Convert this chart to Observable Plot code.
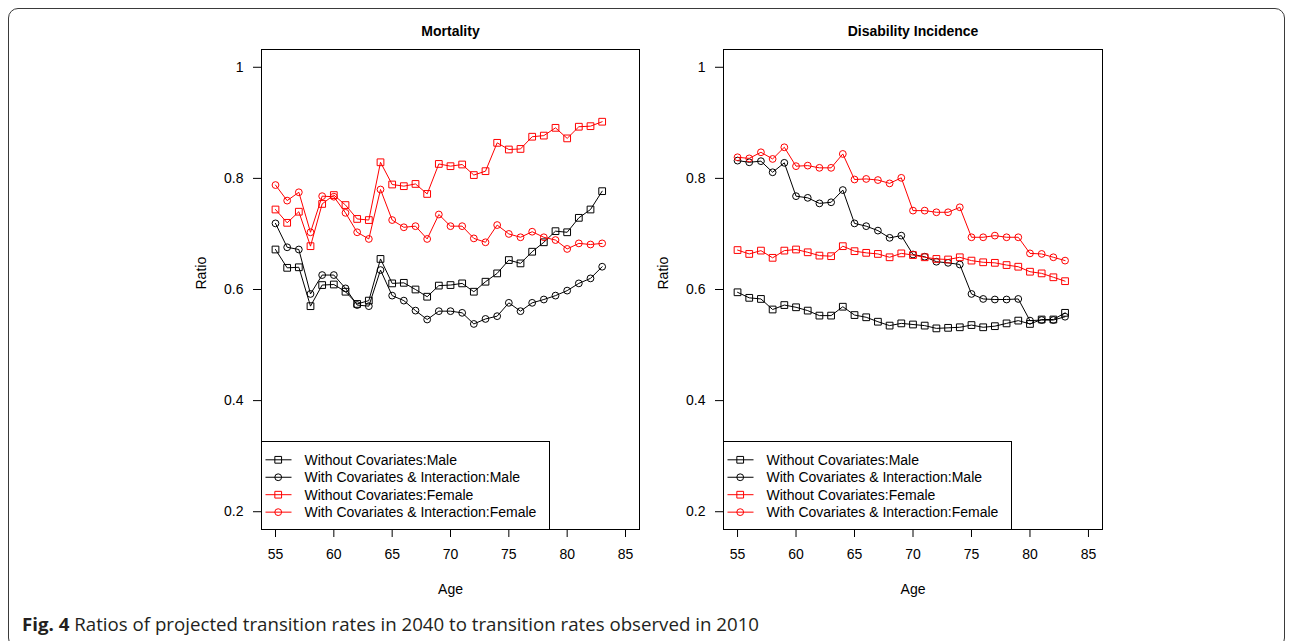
<!DOCTYPE html>
<html><head><meta charset="utf-8">
<script src="https://cdn.jsdelivr.net/npm/d3@7"></script>
<script src="https://cdn.jsdelivr.net/npm/@observablehq/plot@0.6"></script>
<style>
html,body{margin:0;padding:0;background:#fff;}
#root{position:relative;width:1292px;height:641px;overflow:hidden;font-family:"Liberation Sans",Arial,sans-serif;}
#border{position:absolute;left:8px;top:8px;width:1277px;height:640px;border:1.5px solid #3a3a3a;border-radius:10px;box-sizing:border-box;}
.panel{position:absolute;top:0;}
#caption{position:absolute;left:22px;top:615px;font-family:"Open Sans",sans-serif;font-size:18px;line-height:18px;color:#231f20;white-space:nowrap;transform-origin:left top;}
#caption b{font-weight:700;}
</style>
</head><body>
<div id="root">
  <div id="border"></div>
  <div id="p1" class="panel" style="left:0px"></div>
  <div id="p2" class="panel" style="left:646px"></div>
  <div id="caption"><b>Fig. 4</b> Ratios of projected transition rates in 2040 to transition rates observed in 2010</div>
</div>
<script>
// ---- data ----
const ages = [55,56,57,58,59,60,61,62,63,64,65,66,67,68,69,70,71,72,73,74,75,76,77,78,79,80,81,82,83];
const xTicks = [55,60,65,70,75,80,85];
const yTicks = [0.2,0.4,0.6,0.8,1];
const seriesLabels = ["Without Covariates:Male","With Covariates & Interaction:Male","Without Covariates:Female","With Covariates & Interaction:Female"];
const panelTitles = ["Mortality","Disability Incidence"];

const mortMaleNoCov   = [0.672,0.639,0.640,0.570,0.608,0.609,0.596,0.574,0.580,0.655,0.611,0.612,0.600,0.587,0.607,0.608,0.611,0.596,0.614,0.629,0.653,0.647,0.668,0.685,0.705,0.703,0.729,0.744,0.777];
const mortMaleCov     = [0.719,0.676,0.672,0.592,0.626,0.626,0.602,0.572,0.570,0.635,0.589,0.580,0.562,0.546,0.561,0.561,0.558,0.538,0.547,0.552,0.576,0.561,0.576,0.582,0.589,0.598,0.611,0.620,0.641];
const mortFemaleNoCov = [0.744,0.720,0.740,0.678,0.754,0.770,0.752,0.727,0.725,0.829,0.789,0.786,0.790,0.772,0.826,0.822,0.825,0.806,0.813,0.864,0.852,0.853,0.875,0.877,0.891,0.872,0.893,0.894,0.902];
const mortFemaleCov   = [0.788,0.760,0.775,0.703,0.768,0.767,0.738,0.703,0.691,0.780,0.725,0.712,0.714,0.691,0.735,0.714,0.714,0.692,0.685,0.716,0.700,0.694,0.704,0.694,0.689,0.673,0.683,0.681,0.683];

const disMaleNoCov    = [0.595,0.585,0.583,0.564,0.572,0.568,0.562,0.553,0.553,0.569,0.554,0.550,0.542,0.535,0.539,0.537,0.535,0.530,0.531,0.532,0.536,0.532,0.534,0.539,0.544,0.538,0.546,0.546,0.558];
const disMaleCov      = [0.832,0.829,0.831,0.811,0.828,0.768,0.765,0.755,0.757,0.779,0.719,0.714,0.706,0.693,0.697,0.663,0.659,0.650,0.648,0.645,0.592,0.583,0.582,0.582,0.583,0.544,0.545,0.545,0.551];
const disFemaleNoCov  = [0.671,0.664,0.670,0.657,0.670,0.672,0.667,0.661,0.660,0.678,0.669,0.666,0.664,0.658,0.665,0.662,0.658,0.655,0.654,0.658,0.652,0.649,0.648,0.644,0.641,0.632,0.629,0.622,0.615];
const disFemaleCov    = [0.838,0.836,0.847,0.835,0.856,0.822,0.823,0.819,0.819,0.844,0.798,0.799,0.797,0.791,0.801,0.742,0.742,0.739,0.739,0.748,0.694,0.694,0.697,0.694,0.694,0.665,0.664,0.658,0.652];

// ---- styles ----
const colors = ["#000000","#000000","#ff0000","#ff0000"];
const symbols = ["square","circle","square","circle"];
const symR = {square:3.8, circle:3.4};
const FONT = '"Liberation Sans", Arial, Helvetica, sans-serif';

function makePanel(title, series, marginLeft, marginRight) {
  const W = 646, H = 600, MT = 49, MB = 71;
  const rows = [];
  seriesLabels.forEach((s, i) => series[i].forEach((v, j) => rows.push({age: ages[j], ratio: v, series: s, k: i})));
  const marks = [];
  seriesLabels.forEach((s, i) => {
    const d = rows.filter(r => r.k === i);
    marks.push(Plot.line(d, {x: "age", y: "ratio", stroke: colors[i], strokeWidth: 1}));
    marks.push(Plot.dot(d, {x: "age", y: "ratio", stroke: colors[i], fill: "none", symbol: symbols[i], r: symR[symbols[i]], strokeWidth: 1}));
  });
  marks.push(Plot.frame({stroke: "black", strokeWidth: 1}));
  marks.push(Plot.axisY({ticks: yTicks, tickSize: 8, tickPadding: 10, tickFormat: d => String(d), label: null, fontSize: 14}));
  marks.push(Plot.axisX({ticks: xTicks, tickSize: 8, tickPadding: 12, tickFormat: d => String(d), label: null, fontSize: 14}));
  marks.push(Plot.text([title], {text: d => d, frameAnchor: "top", lineAnchor: "middle", dy: -18, fontWeight: "bold", fontSize: 14}));
  marks.push(Plot.text(["Ratio"], {text: d => d, frameAnchor: "left", dx: -60, rotate: -90, fontSize: 14}));
  marks.push(Plot.text(["Age"], {text: d => d, frameAnchor: "bottom", lineAnchor: "middle", dy: 60, fontSize: 14}));
  const chart = Plot.plot({
    width: W, height: H,
    marginLeft, marginRight, marginTop: MT, marginBottom: MB,
    style: {fontFamily: FONT, fontSize: "14px", color: "black", background: "transparent"},
    x: {domain: [53.8, 86.2]},
    y: {domain: [0.168, 1.032]},
    marks
  });
  // legend (bottom-left, inside the plotting region, like R's legend("bottomleft"))
  const left = marginLeft + 0.5, bottom = H - MB + 0.5;
  const LW = 288, LH = 88;
  const g = d3.select(chart).append("g").attr("transform", `translate(${left},${bottom - LH})`)
    .attr("font-family", FONT).attr("font-size", 14).attr("text-anchor", "start");
  g.append("rect").attr("width", LW).attr("height", LH).attr("fill", "white").attr("stroke", "black");
  seriesLabels.forEach((s, i) => {
    const y = 18.3 + i * 17.45;
    g.append("line").attr("x1", 4).attr("x2", 30).attr("y1", y).attr("y2", y).attr("stroke", colors[i]);
    const r = symR[symbols[i]];
    const sym = symbols[i] === "square" ? d3.symbolSquare : d3.symbolCircle;
    g.append("path").attr("d", d3.symbol(sym, r * r * Math.PI)()).attr("transform", `translate(16.7,${y})`)
      .attr("fill", "none").attr("stroke", colors[i]);
    g.append("text").attr("x", 43).attr("y", y).attr("dy", "0.35em").attr("text-anchor", "start").attr("fill", "black").text(s);
  });
  return chart;
}

document.getElementById("p1").append(makePanel(panelTitles[0], [mortMaleNoCov, mortMaleCov, mortFemaleNoCov, mortFemaleCov], 261, 7));
document.getElementById("p2").append(makePanel(panelTitles[1], [disMaleNoCov, disMaleCov, disFemaleNoCov, disFemaleCov], 77, 190));

// fit caption width to the reference
const cap = document.getElementById("caption");
const w = cap.getBoundingClientRect().width;
cap.style.transform = `scaleX(${737 / w})`;
</script>
</body></html>
